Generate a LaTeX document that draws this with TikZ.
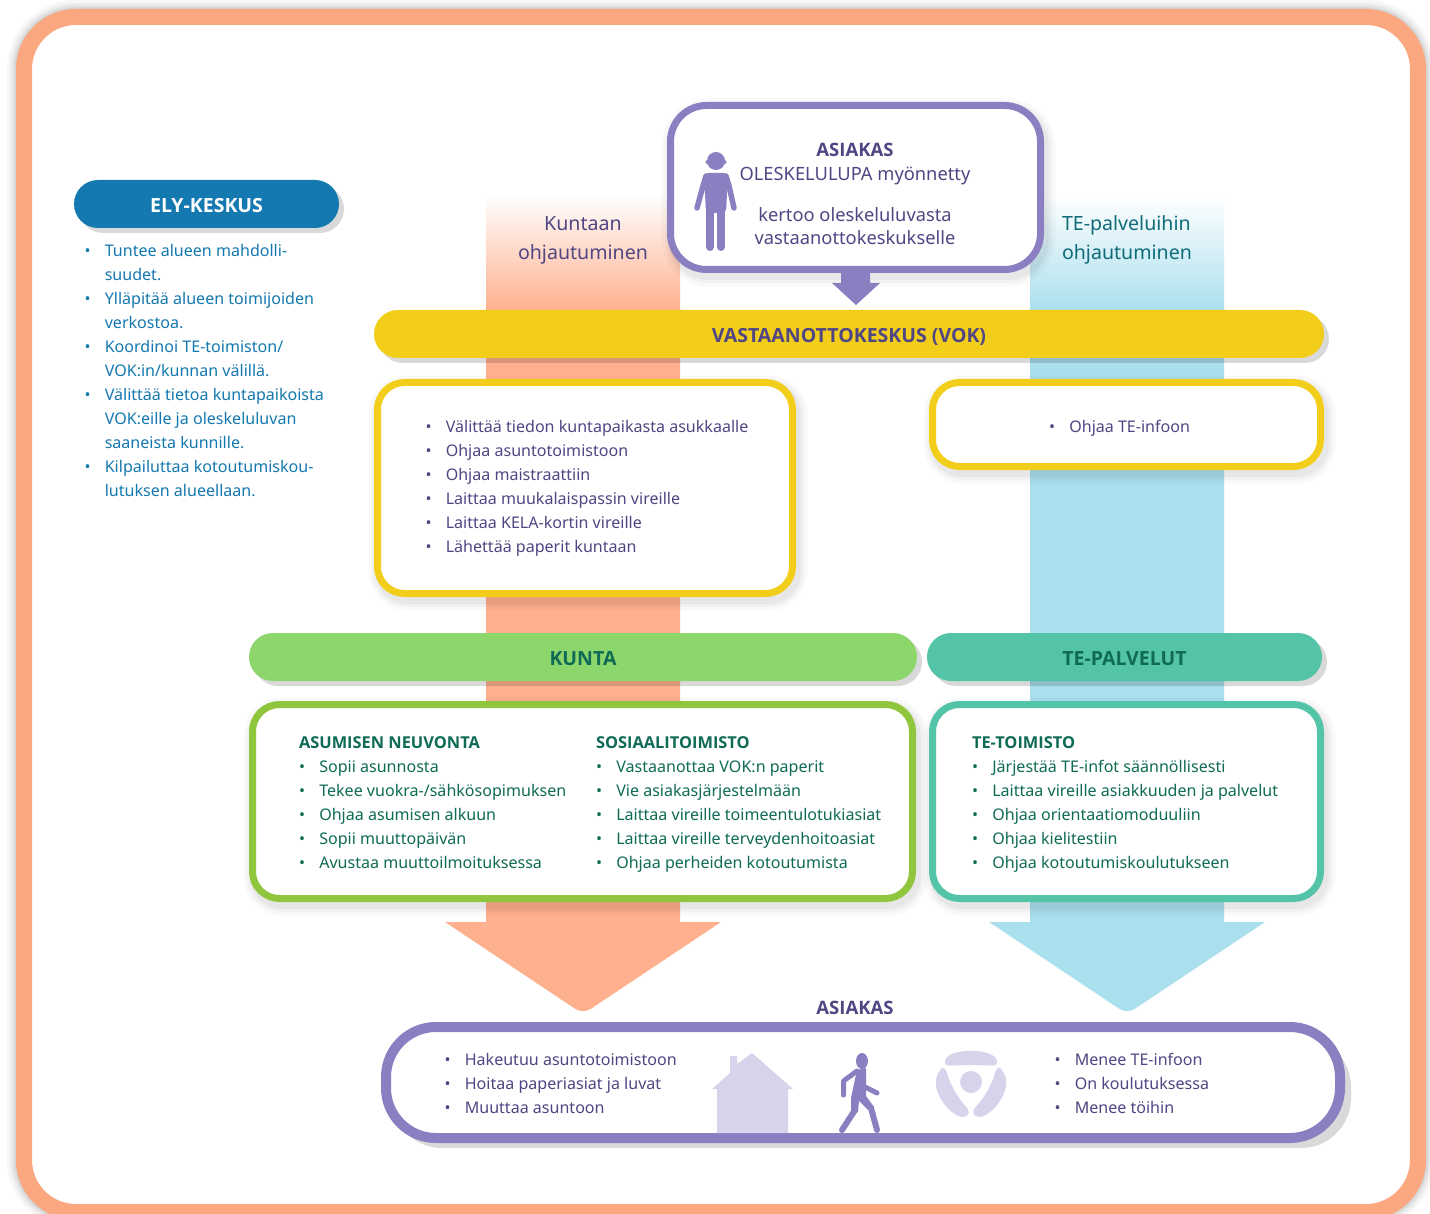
\documentclass[tikz,border=0pt]{standalone}
\usepackage{fontspec}
\setmainfont{Noto Sans}
\newfontfamily\headf{Open Sans}
\usepackage{xcolor}
\usetikzlibrary{positioning,shadows}

\definecolor{frame-c}{HTML}{FBA77F}
\definecolor{band-o}{HTML}{FFB08E}
\definecolor{band-b}{HTML}{AADFEE}
\definecolor{ely-c}{HTML}{1479B0}
\definecolor{yel-c}{HTML}{F2CE1B}
\definecolor{vio-c}{HTML}{8C7FC1}
\definecolor{vio-l}{HTML}{D6D3EA}
\definecolor{vio-d}{HTML}{4F4683}
\definecolor{gre-c}{HTML}{90C63E}
\definecolor{gre-l}{HTML}{8DD66B}
\definecolor{gre-d}{HTML}{0F6B55}
\definecolor{tea-c}{HTML}{53C4A8}
\definecolor{tea-d}{HTML}{0F6B78}

\newcommand{\bul}{\makebox[20.3pt][l]{\textbullet}}
\newcommand{\nob}{\makebox[20.3pt][l]{}}

\begin{document}
\begin{tikzpicture}
[
x=1pt, y=-1pt,
soft/.style={
  preaction={draw=black, draw opacity=.025, line width=24pt, transform canvas={xshift=3pt, yshift=-5pt}},
  preaction={draw=black, draw opacity=.03,  line width=17pt, transform canvas={xshift=3pt, yshift=-5pt}},
  preaction={draw=black, draw opacity=.04,  line width=11pt, transform canvas={xshift=3pt, yshift=-5pt}}},
glow/.style={
  preaction={draw=black, draw opacity=.03, line width=34pt},
  preaction={draw=black, draw opacity=.04, line width=28pt},
  preaction={draw=black, draw opacity=.05, line width=23pt},
  preaction={draw=black, draw opacity=.06, line width=19pt}},
box-a/.style={rectangle, soft, draw, fill=white, line width=7pt, rounded corners=27pt, inner sep=0pt},
pill-a/.style={rectangle, rounded corners=24pt, minimum height=48pt, inner sep=0pt,
  text height=17pt, text depth=0pt,
  font=\fontsize{19.5}{24}\selectfont\headf\bfseries,
  drop shadow={shadow xshift=5pt, shadow yshift=-5pt, fill=black, opacity=.15}},
item-a/.style={anchor=west, inner sep=0pt, outer sep=0pt, minimum height=24pt, text height=13pt, text depth=0pt,
  font=\fontsize{16.05}{24}\selectfont},
head-a/.style={font=\fontsize{16.4}{24}\selectfont\headf\bfseries},
under/.style={below = 00.00mm of #1.south west, anchor=north west},
text-a/.style={align=center, font=\fontsize{18.3}{24}\selectfont, text=vio-d},
text-b/.style={align=center, font=\fontsize{19.6}{29}\selectfont}
]
\useasboundingbox (0,0) rectangle (1430,1214);

% frame
\node (frame) [rectangle, glow, draw=frame-c, fill=white, line width=16pt, rounded corners=52pt,
  minimum width=1394pt, minimum height=1195pt] at (721,614.5) {};

% bands
\fill [top color=white, bottom color=band-o] (486,195) rectangle (680,311);
\fill [top color=white, bottom color=band-b] (1030,195) rectangle (1224,311);
\fill [band-o] (486,310) -- (680,310) -- (680,922) -- (721,922) [rounded corners=9pt] -- (583,1014) [sharp corners] -- (445,922) -- (486,922) -- cycle;
\fill [band-b] (1030,310) -- (1224,310) -- (1224,922) -- (1265,922) [rounded corners=9pt] -- (1127,1014) [sharp corners] -- (989,922) -- (1030,922) -- cycle;

\node (band-o-t) [text-b, text=vio-d] at (583,240) {Kuntaan\\ohjautuminen};
\node (band-b-t) [text-b, text=tea-d, align=left] at (1127,240) {TE-palveluihin\\ohjautuminen};

% top box
\node (top-box) [box-a, draw=vio-c, rounded corners=36pt, minimum width=370pt, minimum height=164pt] at (855.5,187.5) {};
\fill [vio-c] (841,272) -- (870,272) -- (870,283) -- (880,283) -- (856,305) -- (832,283) -- (841,283) -- cycle;
\node (top-1) [text-a, font=\fontsize{18.5}{24}\selectfont\headf\bfseries] at (855,150) {ASIAKAS};
\node (top-2) [text-a] at (855,176) {OLESKELULUPA myönnetty};
\node (top-3) [text-a] at (855,215) {kertoo oleskeluluvasta};
\node (top-4) [text-a] at (855,238) {vastaanottokeskukselle};

% person
\fill [vio-c] (716,161) circle [radius=9];
\fill [vio-c] (707.5,162) circle [radius=2] (724.5,162) circle [radius=2];
\fill [vio-c, rounded corners=4pt] (704,173) -- (728,173) -- (726,213) -- (706,213) -- cycle;
\draw [vio-c, line width=5.5pt, line cap=round, line join=round] (706,176) -- (703,186) -- (697,208) (726,176) -- (729,186) -- (734,208);
\draw [vio-c, line width=8pt, line cap=round] (710,205) -- (710,247) (721,205) -- (721,247);

% ELY
\node (ely) [pill-a, fill=ely-c, text=white, minimum width=265pt] at (206.5,204) {ELY-KESKUS};
\tikzset{item-e/.style={item-a, text=ely-c}}
\node (ely-1)  [item-e]                at (84.5,250) {\bul Tuntee alueen mahdolli-};
\node (ely-2)  [item-e, under=ely-1]   {\nob suudet.};
\node (ely-3)  [item-e, under=ely-2]   {\bul Ylläpitää alueen toimijoiden};
\node (ely-4)  [item-e, under=ely-3]   {\nob verkostoa.};
\node (ely-5)  [item-e, under=ely-4]   {\bul Koordinoi TE-toimiston/};
\node (ely-6)  [item-e, under=ely-5]   {\nob VOK:in/kunnan välillä.};
\node (ely-7)  [item-e, under=ely-6]   {\bul Välittää tietoa kuntapaikoista};
\node (ely-8)  [item-e, under=ely-7]   {\nob VOK:eille ja oleskeluluvan};
\node (ely-9)  [item-e, under=ely-8]   {\nob saaneista kunnille.};
\node (ely-10) [item-e, under=ely-9]   {\bul Kilpailuttaa kotoutumiskou-};
\node (ely-11) [item-e, under=ely-10]  {\nob lutuksen alueellaan.};

% VOK
\node (vok) [pill-a, fill=yel-c, text=vio-d, minimum width=950pt] at (849,334) {VASTAANOTTOKESKUS (VOK)};
\tikzset{item-v/.style={item-a, text=vio-d}}
\node (vok-box-1) [box-a, draw=yel-c, minimum width=415pt, minimum height=211pt] at (585,488) {};
\node (vok-box-2) [box-a, draw=yel-c, minimum width=388pt, minimum height=84pt]  at (1126.5,424.5) {};
\node (vok-1) [item-v]              at (425.5,426) {\bul Välittää tiedon kuntapaikasta asukkaalle};
\node (vok-2) [item-v, under=vok-1] {\bul Ohjaa asuntotoimistoon};
\node (vok-3) [item-v, under=vok-2] {\bul Ohjaa maistraattiin};
\node (vok-4) [item-v, under=vok-3] {\bul Laittaa muukalaispassin vireille};
\node (vok-5) [item-v, under=vok-4] {\bul Laittaa KELA-kortin vireille};
\node (vok-6) [item-v, under=vok-5] {\bul Lähettää paperit kuntaan};
\node (vok-7) [item-v]              at (1049,426) {\bul Ohjaa TE-infoon};

% KUNTA
\node (kunta) [pill-a, fill=gre-l, text=gre-d, minimum width=668pt] at (583,657) {KUNTA};
\node (te)    [pill-a, fill=tea-c, text=gre-d, minimum width=395pt] at (1124.5,657) {TE-PALVELUT};
\node (kunta-box) [box-a, draw=gre-c, minimum width=660pt, minimum height=194pt] at (582.5,801.5) {};
\node (te-box)    [box-a, draw=tea-c, minimum width=388pt, minimum height=194pt] at (1126.5,801.5) {};
\tikzset{item-g/.style={item-a, text=gre-d}}
\node (as-0) [item-g, head-a] at (299,742) {ASUMISEN NEUVONTA};
\node (as-1) [item-g, under=as-0] {\bul Sopii asunnosta};
\node (as-2) [item-g, under=as-1] {\bul Tekee vuokra-/sähkösopimuksen};
\node (as-3) [item-g, under=as-2] {\bul Ohjaa asumisen alkuun};
\node (as-4) [item-g, under=as-3] {\bul Sopii muuttopäivän};
\node (as-5) [item-g, under=as-4] {\bul Avustaa muuttoilmoituksessa};
\node (so-0) [item-g, head-a] at (596,742) {SOSIAALITOIMISTO};
\node (so-1) [item-g, under=so-0] {\bul Vastaanottaa VOK:n paperit};
\node (so-2) [item-g, under=so-1] {\bul Vie asiakasjärjestelmään};
\node (so-3) [item-g, under=so-2] {\bul Laittaa vireille toimeentulotukiasiat};
\node (so-4) [item-g, under=so-3] {\bul Laittaa vireille terveydenhoitoasiat};
\node (so-5) [item-g, under=so-4] {\bul Ohjaa perheiden kotoutumista};
\node (tt-0) [item-g, head-a] at (972,742) {TE-TOIMISTO};
\node (tt-1) [item-g, under=tt-0] {\bul Järjestää TE-infot säännöllisesti};
\node (tt-2) [item-g, under=tt-1] {\bul Laittaa vireille asiakkuuden ja palvelut};
\node (tt-3) [item-g, under=tt-2] {\bul Ohjaa orientaatiomoduuliin};
\node (tt-4) [item-g, under=tt-3] {\bul Ohjaa kielitestiin};
\node (tt-5) [item-g, under=tt-4] {\bul Ohjaa kotoutumiskoulutukseen};

% bottom box
\node (end-t) [text-a, font=\fontsize{18.5}{24}\selectfont\headf\bfseries] at (855,1008) {ASIAKAS};
\fill [black, opacity=.15, rounded corners=50pt] (392,1037) rectangle (1351,1148);
\node (end-box) [rectangle, draw=vio-c, fill=white, line width=10pt, rounded corners=50pt,
  minimum width=954pt, minimum height=111pt] at (863,1082.5) {};
\node (end-1) [item-v]              at (444.5,1059) {\bul Hakeutuu asuntotoimistoon};
\node (end-2) [item-v, under=end-1] {\bul Hoitaa paperiasiat ja luvat};
\node (end-3) [item-v, under=end-2] {\bul Muuttaa asuntoon};
\node (end-4) [item-v]              at (1054.5,1059) {\bul Menee TE-infoon};
\node (end-5) [item-v, under=end-4] {\bul On koulutuksessa};
\node (end-6) [item-v, under=end-5] {\bul Menee töihin};

% house
\fill [vio-l] (730,1056) -- (737,1056) -- (737,1064) -- (752,1053) -- (793,1089) -- (788,1089) -- (788,1133) -- (717,1133) -- (717,1089) -- (712,1089) -- (730,1073) -- cycle;

% walker
\fill [vio-c] (862,1061) ellipse [x radius=6, y radius=8];
\fill [vio-c] (857,1070) -- (866,1068) -- (866,1096) -- (874,1107) -- (868,1110) -- (859,1101) -- (858,1112) -- (851,1112) -- (851,1098) -- cycle;
\draw [vio-c, line width=5pt, line cap=round, line join=round] (857,1071) -- (843.5,1081) -- (843.5,1095) (865,1087) -- (877,1093);
\draw [vio-c, line width=6pt, line cap=round, line join=round] (855,1110) -- (842,1130) (871,1108) -- (877,1130);

% trefoil
\fill [vio-l] (971,1082) circle [radius=11];
\fill [vio-l, rounded corners=4pt] (945,1066) .. controls (945,1047) and (997,1047) .. (997,1066) .. controls (985,1065) and (957,1065) .. (945,1066) -- cycle;
\fill [vio-l, rounded corners=3pt] (936,1081) .. controls (937,1073) and (942,1067) .. (946,1069) .. controls (950,1085) and (958,1098) .. (969,1110) .. controls (968,1117) and (962,1117) .. (958,1116) .. controls (945,1108) and (936,1094) .. (936,1081) -- cycle;
\fill [vio-l, rounded corners=3pt] (1006,1081) .. controls (1005,1073) and (1000,1067) .. (996,1069) .. controls (992,1085) and (984,1098) .. (973,1110) .. controls (974,1117) and (980,1117) .. (984,1116) .. controls (997,1108) and (1006,1094) .. (1006,1081) -- cycle;
\end{tikzpicture}
\end{document}
